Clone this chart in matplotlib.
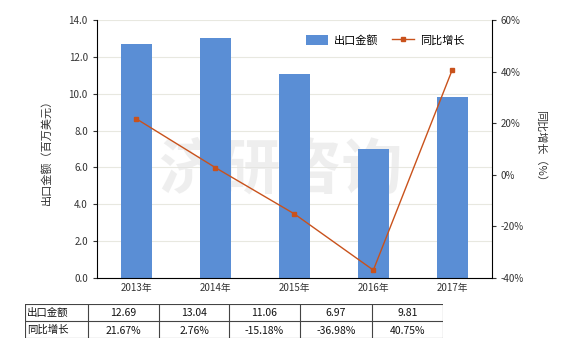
import matplotlib
matplotlib.use('Agg')
import matplotlib.pyplot as plt
from matplotlib.ticker import FuncFormatter

plt.rcParams['font.family'] = ['Noto Sans CJK SC', 'DejaVu Sans']

years = ['2013年', '2014年', '2015年', '2016年', '2017年']
export_values = [12.69, 13.04, 11.06, 6.97, 9.81]
growth = [21.67, 2.76, -15.18, -36.98, 40.75]
export_labels = ['12.69', '13.04', '11.06', '6.97', '9.81']
growth_labels = ['21.67%', '2.76%', '-15.18%', '-36.98%', '40.75%']

bar_color = '#5A8ED5'
line_color = '#C9521C'
text_color = '#333333'

fig = plt.figure(figsize=(5.8, 3.5), dpi=100)
ax = fig.add_axes([0.167, 0.206, 0.681, 0.737])
ax2 = ax.twinx()

x = list(range(len(years)))
ax.bar(x, export_values, width=0.4, color=bar_color, label='出口金额', zorder=2)
ax2.plot(x, growth, color=line_color, linewidth=1, marker='s', markersize=3.5,
         label='同比增长', zorder=3)

ax.set_xlim(-0.5, 4.5)
ax.set_ylim(0, 14)
ax.set_yticks([0, 2, 4, 6, 8, 10, 12, 14])
ax.yaxis.set_major_formatter(FuncFormatter(lambda v, p: f'{v:.1f}'))
ax2.set_ylim(-40, 60)
ax2.set_yticks([-40, -20, 0, 20, 40, 60])
ax2.yaxis.set_major_formatter(FuncFormatter(lambda v, p: f'{v:.0f}%'))
ax.set_xticks(x)
ax.set_xticklabels(years)

ax.grid(axis='y', color='#E8E8E0', linewidth=0.8, zorder=0)
ax.set_axisbelow(True)
for a in (ax, ax2):
    a.spines['top'].set_visible(False)
    a.tick_params(labelsize=7, colors=text_color, length=3, width=0.8)
ax2.spines['left'].set_visible(False)
ax.spines['right'].set_visible(False)
ax2.spines['bottom'].set_visible(False)
ax.tick_params(axis='x', length=0, pad=4)

ax.set_ylabel('出口金额（百万美元）', fontsize=8, color=text_color, labelpad=12)
ax2.set_ylabel('同比增长（%）', fontsize=8, color=text_color, rotation=270, labelpad=16)

# watermark
ax.text(1.82, 5.8, '济研咨询', fontsize=44, color='#E4E4E4', alpha=0.6,
        ha='center', va='center', zorder=1, fontweight='bold')

h1, l1 = ax.get_legend_handles_labels()
h2, l2 = ax2.get_legend_handles_labels()
ax2.legend(h1 + h2, l1 + l2, loc='upper right', bbox_to_anchor=(0.955, 0.98), ncol=2,
           frameon=False, fontsize=8, handlelength=2.0, handleheight=1.0,
           columnspacing=1.2, handletextpad=0.5)

# data table below the chart
tab = fig.add_axes([25 / 580, 1 - 338 / 350, 418 / 580, 34 / 350])
tab.set_xlim(25, 443)
tab.set_ylim(338, 304)
tab.axis('off')
col_edges = [25, 88, 159, 229, 300, 372, 443]
row_edges = [304, 321, 338]
for cx in col_edges:
    tab.plot([cx, cx], [304, 338], color='#444444', linewidth=0.8)
for ry in row_edges:
    tab.plot([25, 443], [ry, ry], color='#444444', linewidth=0.8)
rows = [('出口金额', export_labels), ('同比增长', growth_labels)]
for r, (name, vals) in enumerate(rows):
    cy = (row_edges[r] + row_edges[r + 1]) / 2
    tab.text(27, cy, name, fontsize=7.5, ha='left', va='center', color='#111111')
    for c, v in enumerate(vals):
        cx = (col_edges[c + 1] + col_edges[c + 2]) / 2
        tab.text(cx, cy + 1, v, fontsize=7.5, ha='center', va='center', color='#111111')

fig.savefig('out.png', dpi=100)
